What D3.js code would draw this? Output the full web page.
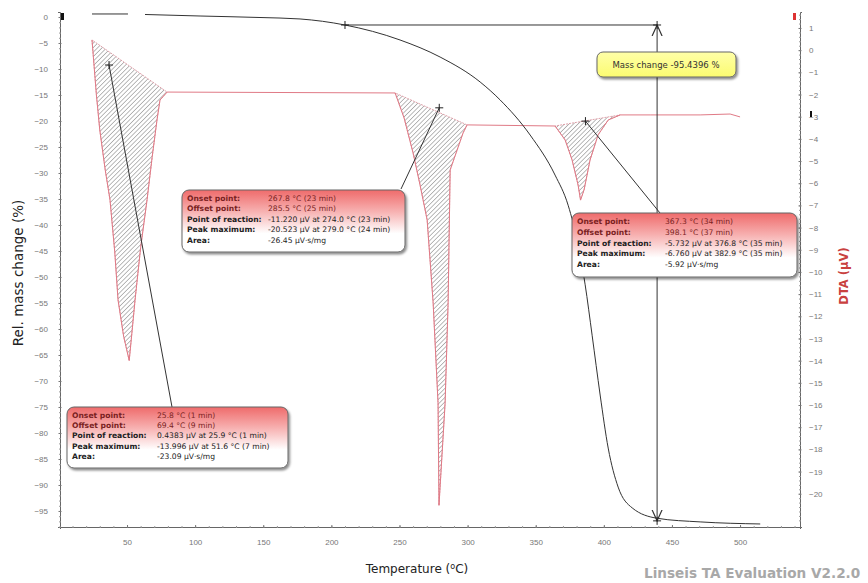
<!DOCTYPE html>
<html>
<head>
<meta charset="utf-8">
<script src="https://cdn.jsdelivr.net/npm/d3@7"></script>
<style>
  body { margin: 0; background: #fff; }
  svg { display: block; font-family: "DejaVu Sans", Verdana, sans-serif; }
  .tick text { fill: #777; font-size: 8px; }
  .box-label { font-weight: bold; font-size: 7.6px; }
  .box-value { font-size: 7.6px; }
</style>
</head>
<body>
<svg id="chart" width="868" height="583"></svg>
<script>
// TG curve (relative mass change, %)
const tgTemp = [24.3, 50.7, 57, 63.2, 103.6, 147.6, 177, 210, 250.4, 279.8, 309.2, 323.9, 345.9, 364.2, 373.8, 381.1, 386.3, 391.4, 397.3, 403.2, 410.5, 420.8, 439.1, 470.7, 514.8];
const tgMass = [0.58, 0.58, null, 0.48, 0.19, -0.1, -0.38, -1.54, -4.42, -7.7, -12.5, -15.96, -22.7, -30.4, -36.2, -43.8, -51.5, -61.2, -72.7, -82.9, -90.4, -94.4, -96.4, -97.1, -97.5];

// DTA curve (µV)
const dtaTemp = [24.3, 27.5, 30, 34, 37.5, 41, 43.4, 47.5, 51.6, 53.5, 55.9, 60, 64.7, 68.5, 72, 74.2, 79.4,
  246.8, 253.4, 260, 265.1, 270.3, 274.7, 278.3, 279.0, 283.5, 285.7, 287.2, 296.7, 299.6,
  364.2, 371.6, 376.7, 381.1, 382.9, 385.5, 389.9, 395.8, 403.2, 412, 434, 470.7, 492.7, 500];
const dtaVal = [0.46, -2.0, -3.6, -5.4, -6.75, -9.1, -11.26, -12.9, -13.996, -12.8, -11.26, -8.9, -6.75, -4.8, -3.15, -2.25, -1.89,
  -1.93, -3.06, -4.64, -6.08, -7.65, -11.39, -15.9, -20.523, -15.9, -11.39, -5.4, -3.73, -3.37,
  -3.42, -4.05, -4.95, -6.08, -6.76, -6.3, -4.95, -3.82, -3.15, -2.92, -2.92, -2.92, -2.88, -3.01];

// peak ranges [first index, last index] in the DTA arrays
const peakRanges = [[0, 16], [17, 29], [30, 39]];

// reaction markers and the boxes they point to
const markerTemp = [36.8, 279.2, 386.5];
const markerDta = [-0.67, -2.6, -3.2];

const boxLabels = ["Onset point:", "Offset point:", "Point of reaction:", "Peak maximum:", "Area:"];
const boxValues = [
  ["25.8 °C (1 min)", "69.4 °C (9 min)", "0.4383 µV at 25.9 °C (1 min)", "-13.996 µV at 51.6 °C (7 min)", "-23.09 µV·s/mg"],
  ["267.8 °C (23 min)", "285.5 °C (25 min)", "-11.220 µV at 274.0 °C (23 min)", "-20.523 µV at 279.0 °C (24 min)", "-26.45 µV·s/mg"],
  ["367.3 °C (34 min)", "398.1 °C (37 min)", "-5.732 µV at 376.8 °C (35 min)", "-6.760 µV at 382.9 °C (35 min)", "-5.92 µV·s/mg"]
];

// mass change step
const stepTemp = [210, 439.1];
const stepMass = [-1.54, -96.9];
const massChangeText = "Mass change  -95.4396 %";

const xTicks = [50, 100, 150, 200, 250, 300, 350, 400, 450, 500];
const yLeftTicks = d3.range(0, -96, -5);
const yRightTicks = d3.range(1, -21, -1);

const svg = d3.select('#chart');
const plotLeft = 60, plotRight = 800, plotTop = 12, plotBottom = 527;

const x = d3.scaleLinear().domain([0.8, 544]).range([plotLeft, plotRight]);
const yL = d3.scaleLinear().domain([-98.08, 0.96]).range([plotBottom, plotTop]);
const yR = d3.scaleLinear().domain([-21.5, 1.72]).range([plotBottom, plotTop]);

const defs = svg.append('defs');
defs.append('pattern')
  .attr('id', 'hatch')
  .attr('patternUnits', 'userSpaceOnUse')
  .attr('width', 3.2).attr('height', 3.2)
  .attr('patternTransform', 'rotate(45)')
  .append('line')
  .attr('x1', 0).attr('y1', 0).attr('x2', 0).attr('y2', 3.2)
  .attr('stroke', '#555').attr('stroke-width', 0.8);

const grad = defs.append('linearGradient')
  .attr('id', 'boxGrad').attr('x1', 0).attr('y1', 0).attr('x2', 0).attr('y2', 1);
grad.append('stop').attr('offset', '0%').attr('stop-color', '#ef6b6b');
grad.append('stop').attr('offset', '35%').attr('stop-color', '#f7b2b2');
grad.append('stop').attr('offset', '70%').attr('stop-color', '#ffffff');
grad.append('stop').attr('offset', '100%').attr('stop-color', '#ffffff');

const yGrad = defs.append('linearGradient')
  .attr('id', 'yellowGrad').attr('x1', 0).attr('y1', 0).attr('x2', 0).attr('y2', 1);
yGrad.append('stop').attr('offset', '0%').attr('stop-color', '#ffffa8');
yGrad.append('stop').attr('offset', '100%').attr('stop-color', '#fbfb70');

const shadow = defs.append('filter').attr('id', 'shadow')
  .attr('x', '-10%').attr('y', '-10%').attr('width', '130%').attr('height', '140%');
shadow.append('feDropShadow')
  .attr('dx', 1.5).attr('dy', 2).attr('stdDeviation', 1.2)
  .attr('flood-color', '#000').attr('flood-opacity', 0.45);

function arrowMarker(id, orient) {
  defs.append('marker')
    .attr('id', id)
    .attr('viewBox', '0 0 12 12')
    .attr('refX', 11).attr('refY', 6)
    .attr('markerWidth', 12).attr('markerHeight', 12)
    .attr('markerUnits', 'userSpaceOnUse')
    .attr('orient', orient)
    .append('path')
    .attr('d', 'M0,1 L11,6 L0,11')
    .attr('fill', 'none').attr('stroke', '#333').attr('stroke-width', 1.2);
}
arrowMarker('arrowEnd', 'auto');
arrowMarker('arrowStart', 'auto-start-reverse');

// axes
const minorX = d3.range(10, 541, 10);
svg.append('g')
  .attr('transform', `translate(0,${plotBottom})`)
  .call(d3.axisBottom(x).tickValues(minorX).tickSize(2).tickFormat(''))
  .call(g => g.select('.domain').attr('stroke', '#666'))
  .call(g => g.selectAll('.tick line').attr('stroke', '#999').attr('transform', 'translate(0,-1)'));
svg.append('g')
  .attr('transform', `translate(0,${plotBottom})`)
  .call(d3.axisBottom(x).tickValues(xTicks).tickSize(3).tickPadding(9))
  .call(g => g.select('.domain').remove())
  .call(g => g.selectAll('.tick line').attr('stroke', '#777').attr('transform', 'translate(0,-2)'));

svg.append('g')
  .attr('transform', `translate(${plotLeft},0)`)
  .call(d3.axisLeft(yL).tickValues(d3.range(0, -99, -1)).tickSize(2).tickFormat(''))
  .call(g => g.select('.domain').attr('stroke', '#666'))
  .call(g => g.selectAll('.tick line').attr('stroke', '#999').attr('transform', 'translate(1,0)'));
svg.append('g')
  .attr('transform', `translate(${plotLeft},0)`)
  .call(d3.axisLeft(yL).tickValues(yLeftTicks).tickSize(3).tickPadding(9))
  .call(g => g.select('.domain').remove())
  .call(g => g.selectAll('.tick line').attr('stroke', '#777').attr('transform', 'translate(1.5,0)'));

svg.append('g')
  .attr('transform', `translate(${plotRight},0)`)
  .call(d3.axisRight(yR).tickValues(d3.range(1.6, -21.4, -0.2).map(v => +v.toFixed(1))).tickSize(2).tickFormat(''))
  .call(g => g.select('.domain').attr('stroke', '#666'))
  .call(g => g.selectAll('.tick line').attr('stroke', '#999').attr('transform', 'translate(-1,0)'));
svg.append('g')
  .attr('transform', `translate(${plotRight},0)`)
  .call(d3.axisRight(yR).tickValues(yRightTicks).tickSize(3).tickPadding(6))
  .call(g => g.select('.domain').remove())
  .call(g => g.selectAll('.tick line').attr('stroke', '#777').attr('transform', 'translate(-1.5,0)'))
  .call(g => g.selectAll('.tick text').attr('fill', '#c45a5a'));

// axis corner markers
svg.append('rect').attr('x', plotLeft + 1).attr('y', 13).attr('width', 3).attr('height', 7).attr('fill', '#111');
svg.append('rect').attr('x', plotRight - 7).attr('y', 13).attr('width', 3).attr('height', 7).attr('fill', '#d33');
svg.append('path').attr('d', `M${plotRight + 10},112 l1,0 l0,5`).attr('stroke', '#111').attr('stroke-width', 2);

// axis titles
svg.append('text')
  .attr('transform', `translate(23,273) rotate(-90)`)
  .attr('text-anchor', 'middle')
  .attr('font-size', 13.5).attr('fill', '#222')
  .text('Rel. mass change (%)');
svg.append('text')
  .attr('transform', `translate(848,276) rotate(-90)`)
  .attr('text-anchor', 'middle')
  .attr('font-size', 11.5).attr('font-weight', 'bold').attr('fill', '#c9413f')
  .text('DTA (µV)');
const xt = svg.append('text')
  .attr('x', 417).attr('y', 573)
  .attr('text-anchor', 'middle')
  .attr('font-size', 12).attr('fill', '#222');
xt.append('tspan').text('Temperature (');
xt.append('tspan').attr('font-size', 8).attr('dy', -4).text('o');
xt.append('tspan').attr('dy', 4).text('C)');

svg.append('text')
  .attr('x', 644).attr('y', 578)
  .attr('font-size', 13.6).attr('font-weight', 'bold').attr('fill', '#a8a8a8')
  .text('Linseis TA Evaluation V2.2.0');

// hatched peak areas
const dtaPts = dtaTemp.map((t, i) => [t, dtaVal[i]]);
const dtaLine = d3.line().x(d => x(d[0])).y(d => yR(d[1]));
peakRanges.forEach(([a, b]) => {
  const seg = dtaPts.slice(a, b + 1);
  svg.append('path')
    .attr('d', dtaLine(seg) + 'Z')
    .attr('fill', 'url(#hatch)')
    .attr('stroke', '#d98a95')
    .attr('stroke-width', 0.8)
    .attr('stroke-dasharray', '2,1');
});

// DTA curve
svg.append('path')
  .attr('d', dtaLine(dtaPts))
  .attr('fill', 'none')
  .attr('stroke', '#e07a86')
  .attr('stroke-width', 1);

// TG curve
const tgPts = tgTemp.map((t, i) => [t, tgMass[i]]);
svg.append('path')
  .attr('d', d3.line().defined(d => d[1] !== null).curve(d3.curveMonotoneX)
    .x(d => x(d[0])).y(d => yL(d[1]))(tgPts))
  .attr('fill', 'none')
  .attr('stroke', '#333')
  .attr('stroke-width', 1);

// mass change step
svg.append('line')
  .attr('x1', x(stepTemp[0])).attr('y1', yL(stepMass[0]))
  .attr('x2', x(stepTemp[1])).attr('y2', yL(stepMass[0]))
  .attr('stroke', '#333').attr('stroke-width', 1);
svg.append('line')
  .attr('x1', x(stepTemp[1])).attr('y1', yL(stepMass[0]))
  .attr('x2', x(stepTemp[1])).attr('y2', yL(stepMass[1]))
  .attr('stroke', '#333').attr('stroke-width', 1)
  .attr('marker-start', 'url(#arrowStart)')
  .attr('marker-end', 'url(#arrowEnd)');

function cross(cx, cy) {
  svg.append('path')
    .attr('d', `M${cx - 4},${cy} h8 M${cx},${cy - 4} v8`)
    .attr('stroke', '#222').attr('stroke-width', 1);
}
cross(x(stepTemp[0]), yL(stepMass[0]));
cross(x(stepTemp[1]), yL(stepMass[0]));
cross(x(stepTemp[1]), yL(stepMass[1]));

// mass change box
const mc = svg.append('g');
mc.append('rect')
  .attr('x', 597).attr('y', 52).attr('width', 139).attr('height', 25).attr('rx', 6)
  .attr('fill', 'url(#yellowGrad)').attr('stroke', '#666').attr('stroke-width', 1)
  .attr('filter', 'url(#shadow)');
mc.append('text')
  .attr('x', 666).attr('y', 68).attr('text-anchor', 'middle')
  .attr('font-size', 8.5).attr('fill', '#333')
  .text(massChangeText);

// annotation boxes with leader lines
const boxPos = [
  { x: 67, y: 407, w: 221, h: 61, vx: 157, end: [172, 407] },
  { x: 182, y: 190, w: 223, h: 62, vx: 268, end: [401, 189] },
  { x: 572, y: 213, w: 225, h: 64, vx: 665, end: [660, 213] }
];
boxPos.forEach((b, i) => {
  const mx = x(markerTemp[i]), my = yR(markerDta[i]);
  svg.append('line')
    .attr('x1', mx).attr('y1', my).attr('x2', b.end[0]).attr('y2', b.end[1])
    .attr('stroke', '#333').attr('stroke-width', 1);
  cross(mx, my);

  const g = svg.append('g');
  g.append('rect')
    .attr('x', b.x).attr('y', b.y).attr('width', b.w).attr('height', b.h).attr('rx', 7)
    .attr('fill', 'url(#boxGrad)').attr('stroke', '#666').attr('stroke-width', 1)
    .attr('filter', 'url(#shadow)');
  const rowH = (b.h - 10) / 5;
  boxLabels.forEach((lab, r) => {
    const ty = b.y + 11 + r * rowH;
    const col = r < 2 ? '#7a1f1f' : '#222';
    g.append('text').attr('class', 'box-label')
      .attr('x', b.x + 5).attr('y', ty).attr('fill', col).text(lab);
    g.append('text').attr('class', 'box-value')
      .attr('x', b.vx).attr('y', ty).attr('fill', col).text(boxValues[i][r]);
  });
});
</script>
</body>
</html>
